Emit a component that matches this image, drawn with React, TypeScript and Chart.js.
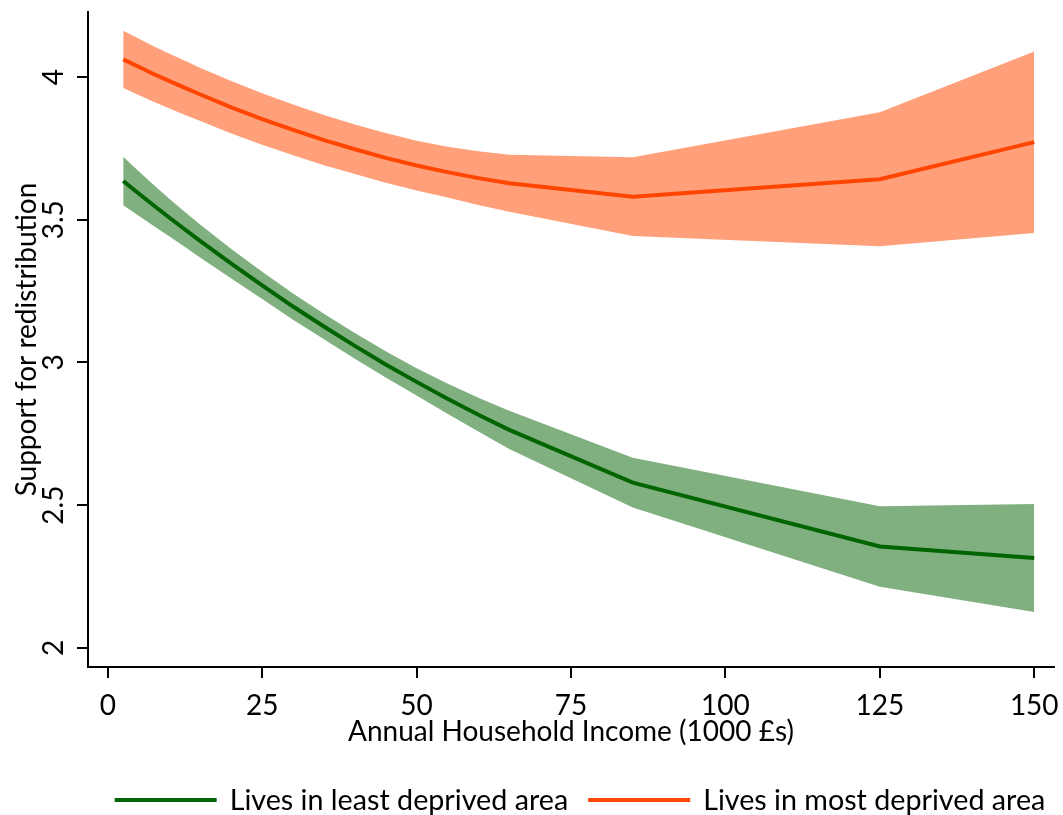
import React, { useEffect, useRef } from "react";
import { Chart, registerables } from "chart.js";

Chart.register(...registerables);

// Income points (1000 £s)
const income = [2.5, 5, 7.5, 10, 12.5, 15, 20, 25, 30, 35, 40, 45, 50, 55, 60, 65, 85, 125, 150];

// Lives in least deprived area
const leastLine = [3.636, 3.592, 3.549, 3.507, 3.466, 3.425, 3.346, 3.27, 3.196, 3.126, 3.058, 2.993, 2.932, 2.873, 2.817, 2.764, 2.579, 2.355, 2.315];
const leastUpper = [3.721, 3.67, 3.621, 3.573, 3.527, 3.483, 3.398, 3.318, 3.242, 3.171, 3.103, 3.039, 2.98, 2.926, 2.876, 2.831, 2.666, 2.496, 2.504];
const leastLower = [3.551, 3.514, 3.477, 3.441, 3.405, 3.367, 3.294, 3.222, 3.15, 3.081, 3.013, 2.947, 2.884, 2.82, 2.758, 2.697, 2.492, 2.214, 2.126];

// Lives in most deprived area
const mostLine = [4.062, 4.036, 4.01, 3.986, 3.962, 3.939, 3.894, 3.853, 3.815, 3.779, 3.747, 3.717, 3.69, 3.667, 3.646, 3.628, 3.581, 3.642, 3.772];
const mostUpper = [4.162, 4.135, 4.107, 4.082, 4.057, 4.032, 3.986, 3.943, 3.904, 3.867, 3.834, 3.804, 3.777, 3.756, 3.74, 3.728, 3.719, 3.877, 4.09];
const mostLower = [3.962, 3.937, 3.913, 3.89, 3.867, 3.846, 3.802, 3.763, 3.726, 3.691, 3.66, 3.63, 3.603, 3.578, 3.552, 3.528, 3.443, 3.407, 3.454];

const xTicks = [0, 25, 50, 75, 100, 125, 150];
const yTicks = [2, 2.5, 3, 3.5, 4];
const seriesLabels = ["Lives in least deprived area", "Lives in most deprived area"];
const xTitle = "Annual Household Income (1000 £s)";
const yTitle = "Support for redistribution";

const FONT = "Lato";
const FONT_SIZE = 28;
const LEGEND_FONT_SIZE = 28.7;

const pts = (ys: number[]) => income.map((x, i) => ({ x, y: ys[i] }));

const yLabelPlugin = {
  id: "yRotLabels",
  afterDraw(chart: any) {
    const ctx = chart.ctx;
    const y = chart.scales.y;
    ctx.save();
    ctx.font = `${FONT_SIZE}px ${FONT}`;
    ctx.fillStyle = "#000";
    ctx.textAlign = "center";
    ctx.textBaseline = "middle";
    yTicks.forEach((v) => {
      const py = y.getPixelForValue(v);
      ctx.save();
      ctx.translate(y.right - 34, py);
      ctx.rotate(-Math.PI / 2);
      ctx.fillText(String(v), 0, 0);
      ctx.restore();
    });
    ctx.restore();
  },
};

const legendPlugin = {
  id: "customLegend",
  afterDraw(chart: any) {
    const ctx = chart.ctx;
    ctx.save();
    ctx.font = `${LEGEND_FONT_SIZE}px ${FONT}`;
    ctx.textAlign = "left";
    ctx.textBaseline = "middle";
    const items = [0, 1].map((i) => {
      const ds = chart.data.datasets[i];
      return { label: ds.label, color: ds.borderColor, w: ctx.measureText(ds.label).width };
    });
    const lineLen = 102;
    const gap = 13;
    const itemGap = 20;
    const total = items.reduce((s, it) => s + lineLen + gap + it.w, 0) + itemGap * (items.length - 1);
    const area = chart.chartArea;
    let x = (area.left + area.right) / 2 + 9 - total / 2;
    const y = chart.height - 15;
    items.forEach((it) => {
      ctx.strokeStyle = it.color;
      ctx.lineWidth = 4;
      ctx.beginPath();
      ctx.moveTo(x, y);
      ctx.lineTo(x + lineLen, y);
      ctx.stroke();
      ctx.fillStyle = "#000";
      ctx.fillText(it.label, x + lineLen + gap, y + 1);
      x += lineLen + gap + it.w + itemGap;
    });
    ctx.restore();
  },
};

export default function App() {
  const ref = useRef<HTMLCanvasElement | null>(null);

  useEffect(() => {
    document.body.style.margin = "0";
    if (!ref.current) return;
    const axisGrid = {
      display: true,
      drawOnChartArea: false,
      drawTicks: true,
      tickLength: 11,
      color: "#000",
      lineWidth: 2,
    };
    const chart = new Chart(ref.current, {
      type: "line",
      data: {
        datasets: [
          {
            label: seriesLabels[0],
            data: pts(leastLine),
            borderColor: "#006400",
            backgroundColor: "#006400",
            borderWidth: 4,
            pointRadius: 0,
            fill: false,
            tension: 0,
          },
          {
            label: seriesLabels[1],
            data: pts(mostLine),
            borderColor: "#FF4500",
            backgroundColor: "#FF4500",
            borderWidth: 4,
            pointRadius: 0,
            fill: false,
            tension: 0,
          },
          {
            label: "least upper",
            data: pts(leastUpper),
            borderColor: "rgba(0,0,0,0)",
            backgroundColor: "#80B080",
            borderWidth: 0,
            pointRadius: 0,
            fill: "+1",
            tension: 0,
          },
          {
            label: "least lower",
            data: pts(leastLower),
            borderColor: "rgba(0,0,0,0)",
            borderWidth: 0,
            pointRadius: 0,
            fill: false,
            tension: 0,
          },
          {
            label: "most upper",
            data: pts(mostUpper),
            borderColor: "rgba(0,0,0,0)",
            backgroundColor: "#FFA07A",
            borderWidth: 0,
            pointRadius: 0,
            fill: "+1",
            tension: 0,
          },
          {
            label: "most lower",
            data: pts(mostLower),
            borderColor: "rgba(0,0,0,0)",
            borderWidth: 0,
            pointRadius: 0,
            fill: false,
            tension: 0,
          },
        ],
      },
      options: {
        responsive: false,
        animation: false,
        devicePixelRatio: 1,
        layout: { padding: { top: 12, right: 9, bottom: 66, left: 0 } },
        plugins: {
          legend: { display: false },
          tooltip: { enabled: false },
        },
        scales: {
          x: {
            type: "linear",
            min: -3.2,
            max: 153.2,
            afterBuildTicks: (s: any) => {
              s.ticks = xTicks.map((v) => ({ value: v }));
            },
            afterFit: (s: any) => {
              s.height = 82;
              s.paddingLeft = 0;
              s.paddingRight = 0;
            },
            grid: axisGrid,
            border: { display: true, color: "#000", width: 2 },
            ticks: {
              color: "#000",
              font: { family: FONT, size: FONT_SIZE },
              padding: 11,
              maxRotation: 0,
              autoSkip: false,
            },
            title: {
              display: true,
              text: xTitle,
              color: "#000",
              font: { family: FONT, size: FONT_SIZE },
              padding: { top: 0, bottom: 0 },
            },
          },
          y: {
            type: "linear",
            min: 1.933,
            max: 4.228,
            afterBuildTicks: (s: any) => {
              s.ticks = yTicks.map((v) => ({ value: v }));
            },
            afterFit: (s: any) => {
              s.width = 88;
              s.paddingTop = 0;
              s.paddingBottom = 0;
            },
            grid: axisGrid,
            border: { display: true, color: "#000", width: 2 },
            ticks: { display: false },
            title: {
              display: true,
              text: yTitle,
              color: "#000",
              font: { family: FONT, size: FONT_SIZE },
              padding: { top: 10, bottom: 0 },
            },
          },
        },
      },
      plugins: [yLabelPlugin, legendPlugin],
    } as any);
    return () => chart.destroy();
  }, []);

  return (
    <div style={{ width: 1063, height: 815 }}>
      <canvas ref={ref} width={1063} height={815} />
    </div>
  );
}
